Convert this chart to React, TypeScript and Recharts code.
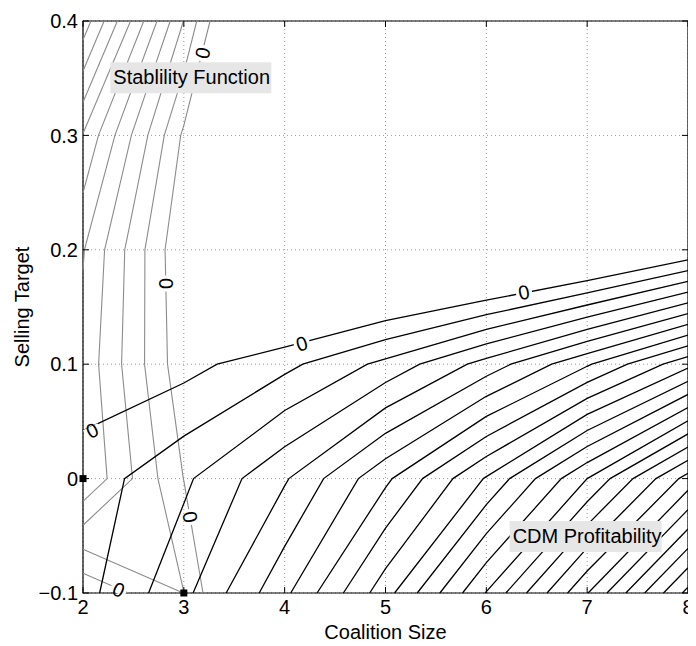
import React from 'react';
import {
  ComposedChart,
  Line,
  XAxis,
  YAxis,
  CartesianGrid,
  ReferenceDot,
  ReferenceArea,
  ReferenceLine,
} from 'recharts';

// grid the two surfaces were sampled on
const xNodes = [2, 3, 4, 5, 6, 7, 8];
const yNodes = [-0.1, 0, 0.1, 0.2, 0.3, 0.4];

// CDM profitability, one row per selling target (bottom row first)
const profitRows = [
  [0.66, 2.72, 5.77, 9.6, 14.05, 18.95, 24.3],
  [0.44, 1.8, 3.88, 6.78, 10.1, 14.0, 18.4],
  [-0.61, -0.355, 0.72, 2.28, 4.4, 6.87, 9.7],
  [-2, -3.5, -4.1, -3.7, -3.46, -2.54, -0.93],
  [-5, -6, -8, -8, -8, -8, -8],
  [-8, -9, -10, -10, -10, -10, -10],
];

// stability function, same layout
const stabRows = [
  [0.83, -1.01, 4.3, 8, 8, 8, 8],
  [-3.95, 0.02, 3, 8, 8, 8, 8],
  [-3.68, 0.71, 4, 8, 8, 8, 8],
  [-4.07, 0.93, 5, 8, 8, 8, 8],
  [-5.94, 0.19, 5, 8, 8, 8, 8],
  [-9.6, -1.97, 5.6, 8, 8, 8, 8],
];

const profitLevels = [0, 1, 2, 3, 4, 5, 6, 7, 8, 9, 10, 11, 12, 13, 14, 15, 16, 17, 18, 19, 20, 21, 22, 23, 24, 25, 26];
const stabLevels = [-12, -11, -10, -9, -8, -7, -6, -5, -4, -3, -2, -1, 0];

const xTicks = [2, 3, 4, 5, 6, 7, 8];
const yTicks = [-0.1, 0, 0.1, 0.2, 0.3, 0.4];

// clabel positions ("0" on the zero contours)
const profitLabels = [
  { x: 2.089, y: 0.0422, angle: -26 },
  { x: 4.17, y: 0.118, angle: -17 },
  { x: 6.372, y: 0.1631, angle: -11 },
];
const stabLabels = [
  { x: 3.185, y: 0.372, angle: -77 },
  { x: 2.824, y: 0.1705, angle: 90 },
  { x: 3.065, y: -0.0336, angle: 80 },
  { x: 2.353, y: -0.097, angle: 23 },
];

const notes = [
  { x: 2.271, y: 0.3508, text: 'Stablility Function', w: 161 },
  { x: 6.231, y: -0.0502, text: 'CDM Profitability', w: 152 },
];

const markers = [
  { x: 2, y: 0 },
  { x: 3, y: -0.1 },
];

const FONT = '"Liberation Sans", Arial, Helvetica, sans-serif';

type Pt = { x: number; y: number };

// marching squares over the node grid, segments chained into polylines
function contourLines(rows: number[][], level: number): Pt[][] {
  const pts = new Map<string, Pt>();
  const segs: [string, string][] = [];
  const cut = (key: string, xa: number, ya: number, va: number, xb: number, yb: number, vb: number) => {
    if (!pts.has(key)) {
      const t = (level - va) / (vb - va);
      pts.set(key, { x: xa + t * (xb - xa), y: ya + t * (yb - ya) });
    }
    return key;
  };
  const up = (v: number) => v >= level;

  for (let j = 0; j < yNodes.length - 1; j++) {
    for (let i = 0; i < xNodes.length - 1; i++) {
      const v0 = rows[j][i];
      const v1 = rows[j][i + 1];
      const v2 = rows[j + 1][i + 1];
      const v3 = rows[j + 1][i];
      const x0 = xNodes[i];
      const x1 = xNodes[i + 1];
      const y0 = yNodes[j];
      const y1 = yNodes[j + 1];
      const B = up(v0) !== up(v1) ? cut(`h${i},${j}`, x0, y0, v0, x1, y0, v1) : null;
      const R = up(v1) !== up(v2) ? cut(`v${i + 1},${j}`, x1, y0, v1, x1, y1, v2) : null;
      const T = up(v3) !== up(v2) ? cut(`h${i},${j + 1}`, x0, y1, v3, x1, y1, v2) : null;
      const L = up(v0) !== up(v3) ? cut(`v${i},${j}`, x0, y0, v0, x0, y1, v3) : null;
      const found = [B, R, T, L].filter((k): k is string => k !== null);
      if (found.length === 2) {
        segs.push([found[0], found[1]]);
      } else if (found.length === 4) {
        const isolateHigh = (v0 + v1 + v2 + v3) / 4 < level;
        if (up(v0) === isolateHigh) {
          segs.push([B!, L!]);
          segs.push([R!, T!]);
        } else {
          segs.push([B!, R!]);
          segs.push([T!, L!]);
        }
      }
    }
  }

  const adj = new Map<string, number[]>();
  segs.forEach(([a, b], k) => {
    adj.set(a, [...(adj.get(a) || []), k]);
    adj.set(b, [...(adj.get(b) || []), k]);
  });
  const used = segs.map(() => false);
  const walk = (start: string) => {
    const path = [start];
    let cur = start;
    for (;;) {
      const next = (adj.get(cur) || []).find((k) => !used[k]);
      if (next === undefined) break;
      used[next] = true;
      cur = segs[next][0] === cur ? segs[next][1] : segs[next][0];
      path.push(cur);
    }
    return path.map((k) => pts.get(k)!);
  };
  const lines: Pt[][] = [];
  adj.forEach((list, key) => {
    if (list.length === 1 && !used[list[0]]) lines.push(walk(key));
  });
  segs.forEach((s, k) => {
    if (!used[k]) lines.push(walk(s[0]));
  });
  return lines;
}

const fmtY = (v: number) => (v < 0 ? '\u2212' + Math.abs(v) : String(v));

const zeroLabel = (angle: number) => (props: any) => (
  <g transform={`translate(${props.cx},${props.cy}) rotate(${angle})`}>
    <rect x={-8} y={-4} width={16} height={8} fill="#fff" />
    <text x={0} y={0} dy="0.36em" textAnchor="middle" fontSize={20} fontFamily={FONT} fill="#000">
      0
    </text>
  </g>
);

const noteBox = (text: string, w: number) => (props: any) => (
  <g>
    <rect x={props.cx} y={props.cy - 15} width={w} height={31} fill="#e6e6e6" />
    <text x={props.cx + 3} y={props.cy + 7} fontSize={20} fontFamily={FONT} fill="#000">
      {text}
    </text>
  </g>
);

const squareMark = (props: any) => (
  <rect x={props.cx - 3.5} y={props.cy - 3.5} width={7} height={7} fill="#000" />
);

export default function App() {
  const stabPaths = stabLevels.flatMap((l) => contourLines(stabRows, l));
  const profitPaths = profitLevels.flatMap((l) => contourLines(profitRows, l));
  const tx = 0.06;
  const ty = 0.0052;

  return (
    <ComposedChart width={688} height={636} margin={{ top: 13, right: 8, bottom: 0, left: 0 }}>
      <CartesianGrid stroke="#999" strokeDasharray="1 3" />
      <XAxis
        type="number"
        dataKey="x"
        domain={[2, 8]}
        ticks={xTicks}
        height={51}
        axisLine={false}
        tickLine={false}
        tickSize={0}
        tickMargin={7}
        tick={{ fontSize: 20, fill: '#000', fontFamily: FONT }}
        label={{ value: 'Coalition Size', position: 'insideBottom', offset: 5, fontSize: 20, fill: '#000', fontFamily: FONT }}
      />
      <YAxis
        type="number"
        domain={[-0.1, 0.4]}
        ticks={yTicks}
        width={75}
        axisLine={false}
        tickLine={false}
        tickSize={0}
        tickMargin={5}
        tickFormatter={fmtY}
        tick={{ fontSize: 20, fill: '#000', fontFamily: FONT }}
        label={{
          value: 'Selling Target',
          angle: -90,
          position: 'insideLeft',
          offset: 14,
          fontSize: 20,
          fill: '#000',
          fontFamily: FONT,
          style: { textAnchor: 'middle' },
        }}
      />
      {stabPaths.map((p, k) => (
        <Line
          key={`s${k}`}
          data={p}
          dataKey="y"
          type="linear"
          stroke="#8c8c8c"
          strokeWidth={1.1}
          dot={false}
          activeDot={false}
          isAnimationActive={false}
        />
      ))}
      {profitPaths.map((p, k) => (
        <Line
          key={`p${k}`}
          data={p}
          dataKey="y"
          type="linear"
          stroke="#000"
          strokeWidth={1.3}
          dot={false}
          activeDot={false}
          isAnimationActive={false}
        />
      ))}
      {[...profitLabels, ...stabLabels].map((l, k) => (
        <ReferenceDot key={`l${k}`} x={l.x} y={l.y} ifOverflow="hidden" shape={zeroLabel(l.angle)} />
      ))}
      {notes.map((n) => (
        <ReferenceDot key={n.text} x={n.x} y={n.y} ifOverflow="visible" shape={noteBox(n.text, n.w)} />
      ))}
      <ReferenceArea x1={2} x2={8} y1={-0.1} y2={0.4} fill="none" stroke="#000" strokeWidth={1.2} fillOpacity={0} />
      {xTicks.map((t) => (
        <ReferenceLine key={`xb${t}`} segment={[{ x: t, y: -0.1 }, { x: t, y: -0.1 + ty }]} stroke="#000" />
      ))}
      {xTicks.map((t) => (
        <ReferenceLine key={`xt${t}`} segment={[{ x: t, y: 0.4 }, { x: t, y: 0.4 - ty }]} stroke="#000" />
      ))}
      {yTicks.map((t) => (
        <ReferenceLine key={`yl${t}`} segment={[{ x: 2, y: t }, { x: 2 + tx, y: t }]} stroke="#000" />
      ))}
      {yTicks.map((t) => (
        <ReferenceLine key={`yr${t}`} segment={[{ x: 8, y: t }, { x: 8 - tx, y: t }]} stroke="#000" />
      ))}
      {markers.map((m, k) => (
        <ReferenceDot key={`m${k}`} x={m.x} y={m.y} ifOverflow="visible" shape={squareMark} />
      ))}
    </ComposedChart>
  );
}
